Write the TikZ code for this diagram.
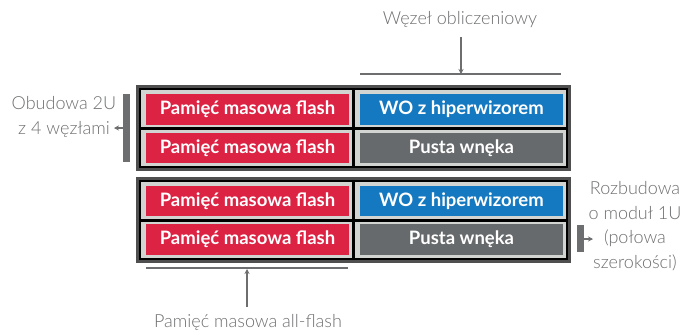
\documentclass[tikz,border=0pt]{standalone}
\usepackage{fontspec}
\setmainfont{Lato}
\newfontfamily\latolight{Lato Light}
\usetikzlibrary{arrows.meta}
\definecolor{cred}{HTML}{DC2343}
\definecolor{cblue}{HTML}{1479C0}
\definecolor{cgray}{HTML}{676A6C}
\definecolor{cframe}{HTML}{4F4F4F}
\definecolor{clight}{HTML}{D2D4D1}
\definecolor{cann}{HTML}{6D6E70}
\tikzset{
  cellbox/.style={minimum width=203pt, minimum height=30.5pt, inner sep=0pt, text=white, font=\bfseries\fontsize{18.5}{22}\selectfont},
  redbox/.style={cellbox, fill=cred},
  bluebox/.style={cellbox, fill=cblue},
  graybox/.style={cellbox, fill=cgray},
  ann/.style={text=cann, font=\latolight\fontsize{18}{24.5}\selectfont, align=center, inner sep=0pt},
  annline/.style={draw=cann, line width=1.3pt},
  annarrow/.style={draw=cann, line width=1.3pt, -{Stealth[length=5pt,width=5pt]}},
  bar/.style={fill=cann},
}
\newcommand{\chassis}[2]{% #1 = top y, #2 = name
  \fill[cframe] (136,#1) rectangle (571,#1+86);
  \draw[black, line width=2.4pt, fill=clight] (140,#1+4) rectangle (567,#1+82);
  \draw[black, line width=2.6pt] (353.5,#1+4) -- (353.5,#1+82);
  \draw[black, line width=2.6pt] (140,#1+43.5) -- (567,#1+43.5);
}
\begin{document}
\begin{tikzpicture}[x=1pt,y=-1pt]
\useasboundingbox (0,0) rectangle (693,333);
\fill[white] (0,0) rectangle (693,333);
% chassis
\chassis{85}{top}
\chassis{177}{bot}
% top chassis
\node[redbox] (r1) at (247.5,109.5) {Pamięć masowa flash};
\node[redbox] (r2) at (247.5,148) {Pamięć masowa flash};
\node[bluebox] (b1) at (461.5,109.5) {WO z hiperwizorem};
\node[graybox] (g1) at (461.5,148) {Pusta wnęka};
% bottom chassis
\node[redbox] (r3) at (247.5,201) {Pamięć masowa flash};
\node[redbox] (r4) at (247.5,239.5) {Pamięć masowa flash};
\node[bluebox] (b2) at (461.5,201) {WO z hiperwizorem};
\node[graybox] (g2) at (461.5,239.5) {Pusta wnęka};
% top annotation
\node[ann] (tl) at (460,20) {Węzeł obliczeniowy};
\coordinate (tla) at (360,74);
\coordinate (tlb) at (561,74);
\draw[annline] (tla) -- (tlb);
\coordinate (tarrs) at (461,37);
\coordinate (tarre) at (461,74);
\draw[annarrow] (tarrs) -- (tarre);
% left annotation
\node[ann] (ll) at (64,117) {Obudowa 2U\\z 4 węzłami};
\fill[bar] (123,94) rectangle (130,162);
\coordinate (lbar) at (123,128);
\coordinate (larr) at (114,128);
\draw[annarrow] (lbar) -- (larr);
% right annotation
\node[ann] (rl) at (635,226) {Rozbudowa\\o moduł 1U\\(połowa\\szerokości)};
\fill[bar] (577,225) rectangle (584,252);
\coordinate (rbar) at (584,239);
\coordinate (rarr) at (593,239);
\draw[annarrow] (rbar) -- (rarr);
% bottom annotation
\coordinate (bla) at (146,268);
\coordinate (blb) at (348,268);
\draw[annline] (bla) -- (blb);
\node[ann] (bl) at (248,322) {Pamięć masowa all-flash};
\coordinate (barrs) at (247,307);
\coordinate (barre) at (247,269);
\draw[annarrow] (barrs) -- (barre);
\end{tikzpicture}
\end{document}
